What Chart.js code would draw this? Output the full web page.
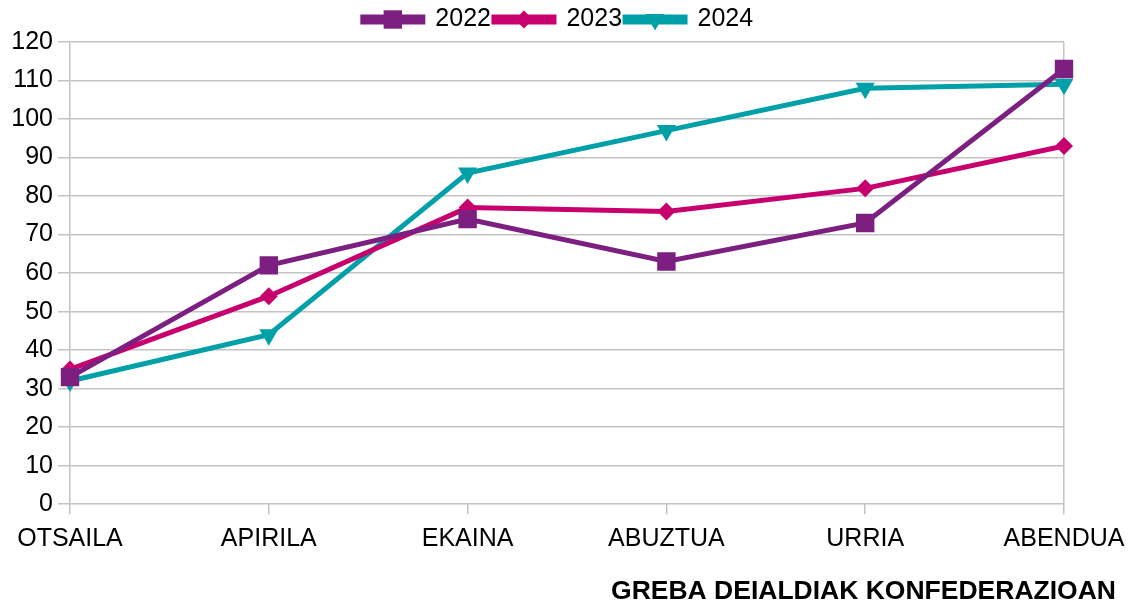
<!DOCTYPE html>
<html>
<head>
<meta charset="utf-8">
<script src="https://cdn.jsdelivr.net/npm/chart.js@4/dist/chart.umd.min.js"></script>
<style>
  html, body { margin: 0; padding: 0; background: #fff; }
  #wrap { width: 1136px; height: 610px; }
</style>
</head>
<body>
<div id="wrap"><canvas id="grebaChart"></canvas></div>
<script>
// hilabeteak eta urteko serieak
const months = ['OTSAILA', 'APIRILA', 'EKAINA', 'ABUZTUA', 'URRIA', 'ABENDUA'];
const series2022 = [33, 62, 74, 63, 73, 113];
const series2023 = [35, 54, 77, 76, 82, 93];
const series2024 = [32, 44, 86, 97, 108, 109];
const yTicks = [0, 10, 20, 30, 40, 50, 60, 70, 80, 90, 100, 110, 120];
const chartTitle = 'GREBA DEIALDIAK KONFEDERAZIOAN';

const gridColor = '#c3c3c3';
const fontFamily = '"Liberation Sans", Arial, sans-serif';

function makeSet(label, data, color, style, radius, rotation) {
  return {
    label: label,
    data: data,
    borderColor: color,
    backgroundColor: color,
    borderWidth: 5,
    tension: 0,
    pointStyle: style,
    pointRadius: radius,
    pointHoverRadius: radius,
    pointRotation: rotation || 0,
    pointBackgroundColor: color,
    pointBorderColor: color,
    pointBorderWidth: 0,
  };
}

// legend: line box + marker on top of it
const legendMarkers = {
  id: 'legendMarkers',
  afterDraw(chart) {
    const legend = chart.legend;
    if (!legend || !legend.legendHitBoxes) return;
    const ctx = chart.ctx;
    legend.legendHitBoxes.forEach((box, i) => {
      const ds = chart.data.datasets[i];
      const cx = box.left + 30;
      const cy = box.top + box.height / 2;
      ctx.save();
      ctx.fillStyle = ds.pointBackgroundColor;
      ctx.strokeStyle = ds.pointBorderColor;
      ctx.lineWidth = 0;
      Chart.helpers.drawPoint(ctx, {
        pointStyle: ds.pointStyle,
        rotation: ds.pointRotation,
        radius: ds.pointRadius,
        borderWidth: 0
      }, cx, cy);
      ctx.restore();
    });
  }
};

new Chart(document.getElementById('grebaChart'), {
  type: 'line',
  data: {
    labels: months,
    datasets: [
      makeSet('2022', series2022, '#7d1f80', 'rect', 13),
      makeSet('2023', series2023, '#c8006e', 'rectRot', 9),
      makeSet('2024', series2024, '#00a0a8', 'triangle', 11, 180),
    ]
  },
  options: {
    responsive: true,
    maintainAspectRatio: false,
    animation: false,
    layout: { padding: { top: 4, right: 20, left: 0, bottom: 2 } },
    plugins: {
      legend: {
        display: true,
        position: 'top',
        align: 'center',
        labels: {
          boxWidth: 60,
          boxHeight: 5,
          padding: 3,
          color: '#000',
          font: { size: 25, family: fontFamily }
        }
      },
      title: {
        display: true,
        position: 'bottom',
        align: 'end',
        text: chartTitle,
        color: '#000',
        padding: { top: 12, bottom: 0 },
        font: { size: 26.5, weight: 'bold', family: fontFamily }
      },
      tooltip: { enabled: false }
    },
    scales: {
      x: {
        offset: false,
        afterFit(scale) { scale.paddingRight = 72; },
        grid: {
          color: (c) => (c.index === months.length - 1 ? gridColor : 'rgba(0,0,0,0)'),
          tickColor: gridColor,
          tickLength: 10,
          lineWidth: 1.5
        },
        border: { display: false },
        ticks: {
          color: '#000',
          padding: 10,
          maxRotation: 0,
          autoSkip: false,
          font: { size: 25, family: fontFamily }
        }
      },
      y: {
        min: 0,
        max: 120,
        afterFit(scale) { scale.width = 70; },
        afterBuildTicks(scale) { scale.ticks = yTicks.map(v => ({ value: v })); },
        grid: {
          color: gridColor,
          tickColor: gridColor,
          tickLength: 12,
          lineWidth: 1.5
        },
        border: { display: true, color: gridColor, width: 1.5 },
        ticks: {
          color: '#000',
          padding: 5,
          font: { size: 25, family: fontFamily }
        }
      }
    }
  },
  plugins: [legendMarkers]
});
</script>
</body>
</html>
